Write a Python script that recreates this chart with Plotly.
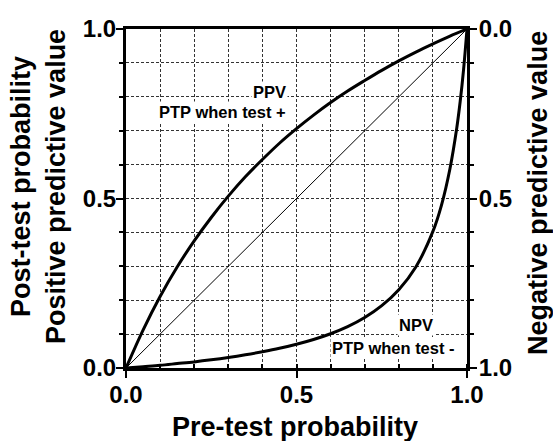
import plotly.graph_objects as go

# Pre-test probability (x) and read-off post-test probabilities
pretest = [0.0, 0.05, 0.1, 0.15, 0.2, 0.25, 0.3, 0.35, 0.4, 0.45, 0.5,
           0.55, 0.6, 0.65, 0.7, 0.75, 0.8, 0.85, 0.9, 0.95, 1.0]
ppv_curve = [0.0, 0.112, 0.211, 0.298, 0.375, 0.444, 0.507, 0.564, 0.615, 0.663, 0.706,
             0.746, 0.783, 0.817, 0.848, 0.878, 0.906, 0.932, 0.956, 0.979, 1.0]

pretest_neg = [0.0, 0.05, 0.1, 0.15, 0.2, 0.25, 0.3, 0.35, 0.4, 0.45, 0.5,
               0.55, 0.6, 0.65, 0.7, 0.75, 0.8, 0.85, 0.9, 0.925, 0.95, 0.97, 0.98, 0.99, 1.0]
npv_curve = [0.0, 0.004, 0.008, 0.013, 0.018, 0.024, 0.031, 0.039, 0.048, 0.058, 0.070,
             0.084, 0.101, 0.122, 0.149, 0.184, 0.231, 0.298, 0.403, 0.48, 0.588, 0.708, 0.786, 0.881, 1.0]

diag_x = [0.0, 1.0]
diag_y = [0.0, 1.0]

left_ticks = [0.0, 0.5, 1.0]
left_ticktext = ["0.0", "0.5", "1.0"]
right_ticktext = ["0.0", "0.5", "1.0"]

FONT = "Liberation Sans"
L, R, T, B = 126, 467, 29, 368
W, H = 553, 441

def px(x):
    return (x - L) / (R - L)

def py(y):
    return (B - y) / (B - T)

fig = go.Figure()
fig.add_trace(go.Scatter(x=diag_x, y=diag_y, mode="lines",
                         line=dict(color="black", width=1), hoverinfo="skip"))
fig.add_trace(go.Scatter(x=pretest, y=ppv_curve, mode="lines",
                         line=dict(color="black", width=3, shape="spline")))
fig.add_trace(go.Scatter(x=pretest_neg, y=npv_curve, mode="lines",
                         line=dict(color="black", width=3, shape="spline")))
# invisible trace to activate right axis
fig.add_trace(go.Scatter(x=[0], y=[0], yaxis="y2", mode="markers",
                         marker=dict(opacity=0), hoverinfo="skip"))

grid = dict(showgrid=True, gridcolor="#333333", gridwidth=1, griddash="3px,2px")
tickfont = dict(family=FONT, size=24, color="black", weight="bold")

fig.update_layout(
    width=W, height=H,
    margin=dict(l=L, r=W - R, t=T, b=H - B, autoexpand=False),
    plot_bgcolor="white", paper_bgcolor="white",
    showlegend=False,
    xaxis=dict(range=[0, 1], tickvals=left_ticks, ticktext=left_ticktext,
               ticks="outside", ticklen=7, tickwidth=2, tickcolor="black",
               showline=True, linecolor="black", linewidth=3, mirror=True,
               zeroline=False, tickfont=tickfont, ticklabelstandoff=-4,
               minor=dict(dtick=0.1, tick0=0, ticks="inside", ticklen=4, tickwidth=1.5,
                          tickcolor="black", **grid),
               **grid),
    yaxis=dict(range=[0, 1], tickvals=left_ticks, ticktext=left_ticktext,
               ticks="outside", ticklen=7, tickwidth=2, tickcolor="black",
               showline=True, linecolor="black", linewidth=3, mirror=False,
               zeroline=False, tickfont=tickfont, ticklabelstandoff=-5,
               minor=dict(dtick=0.1, tick0=0, ticks="outside", ticklen=4, tickwidth=1.5,
                          tickcolor="black", **grid),
               **grid),
    yaxis2=dict(range=[1, 0], overlaying="y", side="right",
                tickvals=left_ticks, ticktext=right_ticktext,
                ticks="outside", ticklen=7, tickwidth=2, tickcolor="black",
                showline=True, linecolor="black", linewidth=3,
                showgrid=False, zeroline=False, tickfont=tickfont, ticklabelstandoff=-3,
                minor=dict(dtick=0.1, tick0=0, ticks="outside", ticklen=4, tickwidth=1.5,
                           tickcolor="black", showgrid=False)),
)

title_font = dict(family=FONT, size=27, color="black", weight="bold")
side_font = dict(family=FONT, size=27, color="black", weight="bold")
label_font = dict(family=FONT, size=16.5, color="black", weight="bold")

fig.add_annotation(text="Pre-test probability", xref="paper", yref="paper",
                   x=px(295), y=py(427), showarrow=False, font=title_font,
                   xanchor="center", yanchor="middle")
fig.add_annotation(text="Post-test probability<br>Positive predictive value",
                   xref="paper", yref="paper", x=px(38), y=py(187), textangle=-90,
                   showarrow=False, font=side_font, xanchor="center", yanchor="middle")
fig.add_annotation(text="Negative predictive value", xref="paper", yref="paper",
                   x=px(538), y=py(193), textangle=-90, showarrow=False, font=side_font,
                   xanchor="center", yanchor="middle")

fig.add_annotation(text="PPV", x=0.475, y=0.814, xref="x", yref="y", showarrow=False,
                   xanchor="right", yanchor="middle", font=label_font, bgcolor="white", borderpad=1)
fig.add_annotation(text="PTP when test +", x=0.475, y=0.755, xref="x", yref="y", showarrow=False,
                   xanchor="right", yanchor="middle", font=label_font, bgcolor="white", borderpad=1)
fig.add_annotation(text="NPV", x=0.906, y=0.127, xref="x", yref="y", showarrow=False,
                   xanchor="right", yanchor="middle", font=label_font, bgcolor="white", borderpad=1)
fig.add_annotation(text="PTP when test -", x=0.971, y=0.059, xref="x", yref="y", showarrow=False,
                   xanchor="right", yanchor="middle", font=label_font, bgcolor="white", borderpad=1)

fig.write_html("out.html", config={"displayModeBar": False},
               post_script="document.body.style.margin='0px';document.body.style.padding='0px';")
